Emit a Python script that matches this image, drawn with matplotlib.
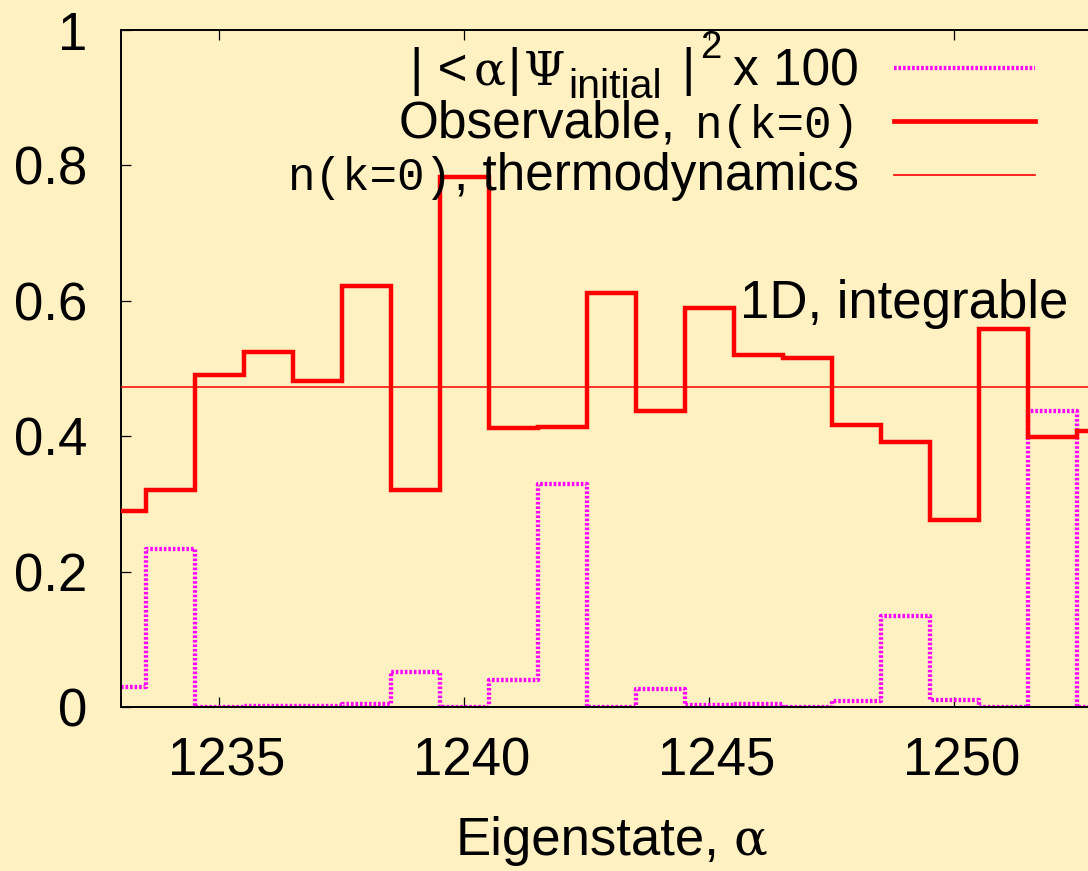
import numpy as np
import matplotlib
matplotlib.use("Agg")
import matplotlib.pyplot as plt
import matplotlib.transforms as mtransforms
from matplotlib.ticker import FixedLocator, FuncFormatter

# Eigenstate index and the quantities plotted for each one
eigenstates = np.arange(1233, 1254)
observable_nk0 = [0.289, 0.321, 0.490, 0.524, 0.482, 0.622, 0.320, 0.783,
                  0.412, 0.414, 0.611, 0.437, 0.590, 0.520, 0.515, 0.416,
                  0.392, 0.276, 0.559, 0.399, 0.408]
overlap_x100 = [0.030, 0.233, 0.000, 0.001, 0.002, 0.004, 0.052, 0.000,
                0.040, 0.329, 0.000, 0.026, 0.0025, 0.0045, 0.0005, 0.009,
                0.135, 0.010, 0.000, 0.437, 0.000]
nk0_thermo = 0.473

x_ticks = [1235, 1240, 1245, 1250]
y_ticks = [0, 0.2, 0.4, 0.6, 0.8, 1.0]

W, H = 1088, 871
BG = "#fff1c2"
SANS, GREEK, MONO = "Liberation Sans", "DejaVu Serif", "Liberation Mono"
MAGENTA = "#ff00ff"

fig = plt.figure(figsize=(W / 100, H / 100), dpi=100, facecolor=BG)

# plot box in pixels; the right side runs past the edge of the canvas
L, R, T, B = 121, 1150, 30, 707
ax = fig.add_axes([L / W, 1 - B / H, (R - L) / W, (B - T) / H], facecolor=BG)

DOTS = (0, (0.6, 0.45))
ax.plot(eigenstates, overlap_x100, drawstyle="steps-mid", color=MAGENTA,
        lw=3.1, ls=DOTS, dash_capstyle="butt", zorder=2)
ax.plot(eigenstates, observable_nk0, drawstyle="steps-mid", color="#ff0000",
        lw=3.2, zorder=3, solid_joinstyle="miter")
ax.axhline(nk0_thermo, color="#ff0000", lw=1.1, zorder=4)

ax.set_xlim(1233, 1254)
ax.set_ylim(0, 1)
ax.xaxis.set_major_locator(FixedLocator(x_ticks))
ax.yaxis.set_major_locator(FixedLocator(y_ticks))
ax.yaxis.set_major_formatter(FuncFormatter(lambda v, p: f"{v:g}"))
for s in ax.spines.values():
    s.set_linewidth(1.4)
ax.tick_params(axis="both", direction="in", length=7.2, width=0.9,
               labelsize=38, top=True, right=True)
ax.tick_params(axis="x", pad=21)
ax.tick_params(axis="y", pad=24)
for lab in ax.get_xticklabels() + ax.get_yticklabels():
    lab.set_fontfamily(SANS)
shift = mtransforms.ScaledTranslation(8 / 100, 0, fig.dpi_scale_trans)
for lab in ax.get_xticklabels():
    lab.set_transform(lab.get_transform() + shift)

renderer = fig.canvas.get_renderer()


def px(x, y):
    return x / W, 1 - y / H


def rich_line(pieces, x_right, y_base):
    """Lay out (text, family, size, rise_px, gap_before_px) pieces,
    right-aligned at x_right on baseline y_base (pixel coords from top)."""
    items = []
    for text, fam, size, rise, gap in pieces:
        t = fig.text(0, 0, text, family=fam, fontsize=size, va="baseline",
                     ha="left", zorder=10)
        w = t.get_window_extent(renderer).width
        items.append((t, w, rise, gap))
    total = sum(w + gap for _, w, _, gap in items)
    x = x_right - total
    for t, w, rise, gap in items:
        x += gap
        t.set_position(px(x, y_base - rise))
        x += w


FS = 37
rich_line([("| <", SANS, FS, 0, 0),
           ("\u03b1", GREEK, 34, 0, 6),
           ("|", SANS, FS, 0, 2),
           ("\u03a8", GREEK, 34, 0, 3),
           ("initial", SANS, FS * 0.8, -13, 3),
           ("|", SANS, FS, 0, 20),
           ("2", SANS, FS * 0.75, 27, 5),
           ("x 100", SANS, FS, 0, 12)], 859, 85)
rich_line([("Observable,", SANS, FS, 0, 0),
           ("n(k=0)", MONO, 33, 0, 18)], 859, 138)
rich_line([("n(k=0)", MONO, 33, 0, 0),
           (", thermodynamics", SANS, FS, 0, 2)], 859, 190)

# key samples
key_x = np.array([894, 1035]) / W
fig.add_artist(plt.Line2D(key_x, [1 - 68 / H] * 2, color=MAGENTA, lw=3.1,
                          ls=DOTS, dash_capstyle="butt"))
fig.add_artist(plt.Line2D(key_x, [1 - 121 / H] * 2, color="#ff0000", lw=3.4))
fig.add_artist(plt.Line2D(key_x, [1 - 175 / H] * 2, color="#ff0000", lw=1.2))

fig.text(*px(740, 318), "1D, integrable", family=SANS, fontsize=38,
         va="baseline", ha="left", zorder=10)

# axis title: sans text followed by a serif alpha
rich_line([("Eigenstate,", SANS, 38, 0, 0),
           ("\u03b1", GREEK, 36, 0, 14)], 767, 855)

fig.savefig("out.png", dpi=100, facecolor=BG)
